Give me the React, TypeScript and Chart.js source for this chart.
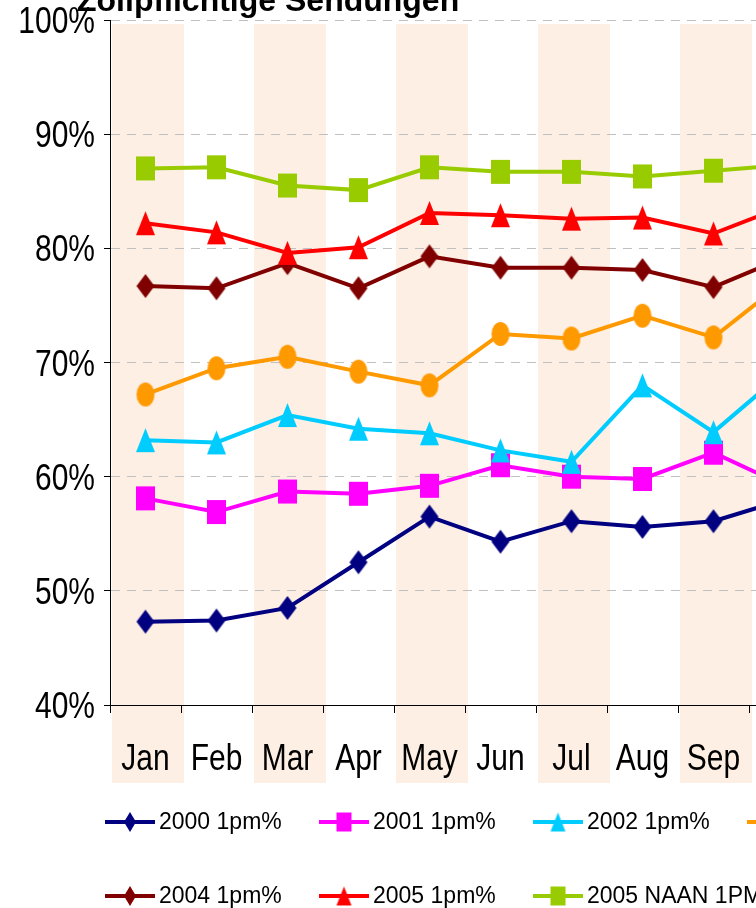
import React, { useEffect, useRef } from 'react';
import { Chart, registerables } from 'chart.js';

Chart.register(...registerables);

// ---------- data ----------
const title = 'Zollpflichtige Sendungen';
const months = ['Jan', 'Feb', 'Mar', 'Apr', 'May', 'Jun', 'Jul', 'Aug', 'Sep', 'Oct', 'Nov', 'Dec'];
const yTicks = [40, 50, 60, 70, 80, 90, 100];

const seriesNames = ['2000 1pm%', '2001 1pm%', '2002 1pm%', '2003 1pm%', '2004 1pm%', '2005 1pm%', '2005 NAAN 1PM%'];
const s2000 = [47.3, 47.4, 48.5, 52.5, 56.5, 54.3, 56.1, 55.6, 56.1, 58.0, null, null];
const s2001 = [58.1, 56.9, 58.7, 58.5, 59.2, 61.0, 60.0, 59.8, 62.1, 59.2, null, null];
const s2002 = [63.2, 63.0, 65.4, 64.2, 63.8, 62.3, 61.3, 68.0, 63.9, 69.2, null, null];
const s2003 = [67.2, 69.5, 70.5, 69.2, 68.0, 72.5, 72.1, 74.1, 72.2, 77.1, null, null];
const s2004 = [76.7, 76.5, 78.7, 76.5, 79.3, 78.3, 78.3, 78.1, 76.6, 79.2, null, null];
const s2005 = [82.2, 81.4, 79.6, 80.1, 83.1, 82.9, 82.6, 82.7, 81.3, 83.7, null, null];
const s2005naan = [87.0, 87.1, 85.5, 85.1, 87.1, 86.7, 86.7, 86.3, 86.8, 87.3, null, null];

const seriesValues = [s2000, s2001, s2002, s2003, s2004, s2005, s2005naan];
const seriesColors = ['#000080', '#FF00FF', '#00CCFF', '#FF9900', '#800000', '#FF0000', '#99CC00'];
const seriesShapes = ['diamond', 'square', 'triangle', 'circle', 'diamond', 'triangle', 'square'];

// ---------- styling ----------
const SANS = "'Liberation Sans', Arial, sans-serif";
const BAND_COLOR = '#FDEFE3';
const AXIS_FONT_SIZE = 37;
const AXIS_SQUEEZE = 0.81; // condensed look of the axis labels

function makeMarker(shape: string, color: string, w: number, h: number): HTMLCanvasElement {
  const c = document.createElement('canvas');
  c.width = w + 2;
  c.height = h + 2;
  const g = c.getContext('2d')!;
  g.fillStyle = color;
  const cx = c.width / 2;
  const cy = c.height / 2;
  g.beginPath();
  if (shape === 'diamond') {
    g.moveTo(cx, 1);
    g.lineTo(w + 1, cy);
    g.lineTo(cx, h + 1);
    g.lineTo(1, cy);
    g.closePath();
  } else if (shape === 'square') {
    g.rect(1, 1, w, h);
  } else if (shape === 'triangle') {
    g.moveTo(cx, 1);
    g.lineTo(w + 1, h + 1);
    g.lineTo(1, h + 1);
    g.closePath();
  } else {
    g.ellipse(cx, cy, w / 2, h / 2, 0, 0, Math.PI * 2);
  }
  g.fill();
  return c;
}

function markerSize(shape: string, legend: boolean): [number, number] {
  if (legend) {
    if (shape === 'diamond') return [12, 20];
    return [15, 19];
  }
  if (shape === 'diamond') return [18, 24];
  if (shape === 'circle') return [18, 24];
  return [19, 24];
}

const bandsPlugin = {
  id: 'bands',
  beforeDraw(chart: any) {
    const { ctx, chartArea } = chart;
    const x = chart.scales.x;
    const step = x.getPixelForValue(1) - x.getPixelForValue(0);
    ctx.save();
    ctx.fillStyle = '#FFFFFF';
    ctx.fillRect(0, 0, chart.width, chart.height);
    ctx.fillStyle = BAND_COLOR;
    for (let i = 0; i < months.length; i += 2) {
      const left = x.getPixelForValue(i) - step / 2 + 2;
      const top = chartArea.top + 4;
      ctx.fillRect(left, top, step + 1, chartArea.bottom + 78 - top);
    }
    ctx.restore();
  },
};

function drawSqueezed(ctx: CanvasRenderingContext2D, text: string, x: number, y: number) {
  ctx.save();
  ctx.translate(x, y);
  ctx.scale(AXIS_SQUEEZE, 1);
  ctx.fillText(text, 0, 0);
  ctx.restore();
}

function makeOverlayPlugin(legendMarkers: HTMLCanvasElement[]) {
  return {
    id: 'overlay',
    afterDraw(chart: any) {
      const { ctx, chartArea } = chart;
      const xs = chart.scales.x;
      const ys = chart.scales.y;
      ctx.save();
      ctx.fillStyle = '#000';

      // axis labels (condensed)
      ctx.font = `${AXIS_FONT_SIZE}px ${SANS}`;
      ctx.textBaseline = 'alphabetic';
      ctx.textAlign = 'center';
      months.forEach((m, i) => {
        drawSqueezed(ctx, m, xs.getPixelForValue(i), chartArea.bottom + 65);
      });
      ctx.textAlign = 'right';
      yTicks.forEach((v) => {
        drawSqueezed(ctx, `${v}%`, chartArea.left - 15, ys.getPixelForValue(v) + 13);
      });

      // title (top part cut off by the canvas edge, as in the reference)
      ctx.font = `bold 32px ${SANS}`;
      ctx.textAlign = 'left';
      ctx.textBaseline = 'alphabetic';
      ctx.fillText(title, chartArea.left - 33, chartArea.top - 9);

      // legend in a grid of 4 columns
      chart.data.datasets.forEach((ds: any, i: number) => {
        const col = i % 4;
        const row = Math.floor(i / 4);
        const x0 = chartArea.left - 5 + col * 214;
        const y = chartArea.bottom + 117 + row * 74;
        ctx.strokeStyle = ds.borderColor;
        ctx.lineWidth = 4;
        ctx.setLineDash([]);
        ctx.beginPath();
        ctx.moveTo(x0, y);
        ctx.lineTo(x0 + 50, y);
        ctx.stroke();
        const mk = legendMarkers[i];
        if (mk) ctx.drawImage(mk, x0 + 25 - mk.width / 2, y - mk.height / 2);
        ctx.fillStyle = '#000';
        ctx.font = `23px ${SANS}`;
        ctx.textBaseline = 'middle';
        ctx.fillText(ds.label, x0 + 54, y + 1);
      });
      ctx.restore();
    },
  };
}

export default function App() {
  const ref = useRef<HTMLCanvasElement | null>(null);

  useEffect(() => {
    const canvas = ref.current;
    if (!canvas) return;
    const n = seriesNames.length;
    const datasets = seriesNames.map((name, i) => {
      const [w, h] = markerSize(seriesShapes[i], false);
      return {
        label: name,
        data: seriesValues[i],
        borderColor: seriesColors[i],
        backgroundColor: seriesColors[i],
        borderWidth: 4,
        pointStyle: makeMarker(seriesShapes[i], seriesColors[i], w, h),
        pointRadius: 10,
        pointHoverRadius: 10,
        tension: 0,
        spanGaps: false,
        order: n - i,
      };
    });
    const legendMarkers = seriesNames.map((_, i) => {
      const [w, h] = markerSize(seriesShapes[i], true);
      return makeMarker(seriesShapes[i], seriesColors[i], w, h);
    });

    const chart = new Chart(canvas, {
      type: 'line',
      data: { labels: months, datasets: datasets as any },
      options: {
        responsive: false,
        animation: false,
        devicePixelRatio: 1,
        layout: { padding: { top: 20, right: 38, left: 0, bottom: 0 } },
        plugins: {
          legend: { display: false },
          tooltip: { enabled: false },
          title: { display: false },
        },
        scales: {
          x: {
            type: 'category',
            offset: true,
            grid: {
              offset: true,
              drawOnChartArea: false,
              drawTicks: true,
              tickLength: 8,
              tickColor: '#000',
              color: '#000',
            },
            border: { color: '#000', width: 1 },
            ticks: { display: false, autoSkip: false, maxRotation: 0 },
            afterFit: (s: any) => {
              s.height = 203;
            },
          },
          y: {
            min: yTicks[0],
            max: yTicks[yTicks.length - 1],
            afterBuildTicks: (s: any) => {
              s.ticks = yTicks.map((v) => ({ value: v }));
            },
            ticks: { display: false },
            grid: {
              color: (c: any) => (c.tick && c.tick.value === yTicks[0] ? 'rgba(0,0,0,0)' : '#C0C0C0'),
              drawTicks: true,
              tickColor: '#000',
              tickLength: 6,
              tickBorderDash: [],
              lineWidth: 1,
            },
            border: { color: '#000', width: 1, dash: [9, 7] },
            afterFit: (s: any) => {
              s.width = 110;
            },
          },
        },
      },
      plugins: [bandsPlugin, makeOverlayPlugin(legendMarkers)],
    });

    return () => {
      chart.destroy();
    };
  }, []);

  return (
    <div
      style={{
        position: 'absolute',
        left: 0,
        top: 0,
        width: 756,
        height: 908,
        overflow: 'hidden',
        background: '#fff',
      }}
    >
      <canvas ref={ref} width={1000} height={908} style={{ display: 'block' }} />
    </div>
  );
}
